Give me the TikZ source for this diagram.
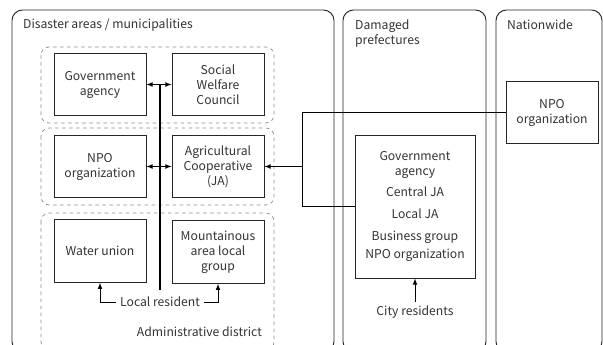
\documentclass[tikz,border=0pt]{standalone}
\usepackage{fontspec}
\setmainfont{Noto Sans CJK JP}
\usepackage{tikz}
\usetikzlibrary{shapes,backgrounds,arrows}

\tikzset{
	areaframe/.style={draw=black!85, line width=0.8pt, rounded corners=9pt},
	groupframe/.style={draw=black!45, dashed, line width=0.6pt, rounded corners=7pt},
	unitbox/.style={draw=black!85, line width=0.8pt, minimum width=2.76cm, minimum height=1.88cm, align=center, text=black!80},
	label/.style={text=black!80, align=left},
	link/.style={draw=black, line width=0.8pt},
}

\begin{document}
\begin{tikzpicture}[x=0.03cm, y=-0.03cm, >=latex, font=\fontsize{10.4}{12.8}\selectfont]
			\useasboundingbox (0,0) rectangle (603,345);
			% Three areas
			\draw[areaframe] (12,10) rectangle (334,352);
			\draw[areaframe] (343,10) rectangle (486,352);
			\draw[areaframe] (496,10) rectangle (602,352);
			\node[label, anchor=west] (area1) at (19,25) {Disaster areas / municipalities};
			\node[label, anchor=north west] (area2) at (351,16) {Damaged\\prefectures};
			\node[label, anchor=west] (area3) at (503,25) {Nationwide};
			% Dashed groups
			\draw[groupframe] (41,47) rectangle (274,123);
			\draw[groupframe] (41,128) rectangle (274,205);
			\draw[groupframe] (41,213) rectangle (274,350);
			% Municipality units
			\node[unitbox] (gov) at (100,84.5) {Government\\agency};
			\node[unitbox] (swc) at (218,84.5) {Social\\Welfare\\Council};
			\node[unitbox] (npo) at (100,166.5) {NPO\\organization};
			\node[unitbox] (ja) at (218,166.5) {Agricultural\\Cooperative\\(JA)};
			\node[unitbox] (water) at (100,251) {Water union};
			\node[unitbox] (mountain) at (218,252) {Mountainous\\area local\\group};
			\node[label] (resident) at (160,302) {Local resident};
			\node[label, anchor=east] (district) at (266,332) {Administrative district};
			% Prefecture and nationwide
			\node[unitbox, minimum width=3.6cm, minimum height=4.29cm] (pref) at (415,206.5) {Government\\agency\\[5pt]Central JA\\[6pt]Local JA\\[6.5pt]Business group\\[2.5pt]NPO organization};
			\node[label] (city) at (415,312) {City residents};
			\node[unitbox] (natnpo) at (552,112.5) {NPO\\organization};
			% Connectors
			\coordinate (spine top) at (160,84.5);
			\coordinate (spine bottom) at (160,290);
			\coordinate (knee) at (302,112.5);
			\draw[link, <->] (gov.east) -- (swc.west);
			\draw[link, <->] (npo.east) -- (ja.west);
			\draw[link, line width=1.2pt] (spine top) -- (spine bottom);
			\draw[link, ->] (resident.west) -| (water.south);
			\draw[link, ->] (resident.east) -| (mountain.south);
			\draw[link, ->] (city.north) -- (pref.south);
			\draw[link] (natnpo.west) -- (knee) |- (pref.west);
			\draw[link, ->] (knee |- ja.east) -- (ja.east);
\end{tikzpicture}
\end{document}
